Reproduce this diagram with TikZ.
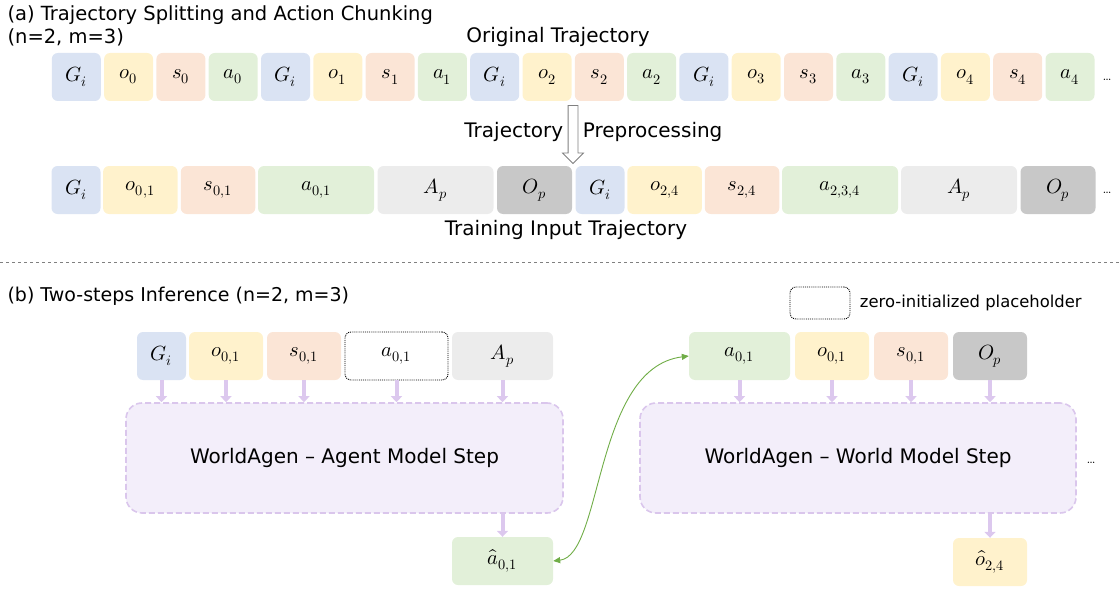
\documentclass[tikz,border=0pt]{standalone}
\usepackage{fontspec}
\usepackage{amsmath}
\usepackage{unicode-math}
\setmathfont{Latin Modern Math}
\usetikzlibrary{shapes.arrows,arrows.meta,positioning}
\newfontfamily\comicfont{DejaVu Sans}
\definecolor{goalblue}{RGB}{218,227,243}
\definecolor{obsyellow}{RGB}{255,242,204}
\definecolor{statesalmon}{RGB}{251,229,214}
\definecolor{actgreen}{RGB}{226,240,217}
\definecolor{aplight}{RGB}{236,236,236}
\definecolor{opdark}{RGB}{200,200,200}
\definecolor{lavfill}{RGB}{243,238,250}
\definecolor{lavborder}{RGB}{218,198,236}
\definecolor{lavarrow}{RGB}{220,200,238}
\definecolor{linkgreen}{RGB}{112,173,71}

\begin{document}
\begin{tikzpicture}[
    x=1pt, y=-1pt,
    token/.style={rectangle, rounded corners=6pt, minimum width=49pt, minimum height=48pt, inner sep=0pt, font=\fontsize{20.5}{24}\selectfont},
    goalbox/.style={token, fill=goalblue},
    obsbox/.style={token, fill=obsyellow},
    statebox/.style={token, fill=statesalmon},
    actbox/.style={token, fill=actgreen},
    apbox/.style={token, fill=aplight},
    opbox/.style={token, fill=opdark},
    holder/.style={token, draw=black, densely dotted, line width=0.9pt, fill=white},
    model/.style={rectangle, rounded corners=16pt, draw=lavborder, dashed, dash pattern=on 6pt off 3pt, line width=1.6pt, fill=lavfill, minimum height=110pt, font=\comicfont\fontsize{20}{24}\selectfont},
    caption/.style={font=\comicfont\fontsize{20}{23}\selectfont},
    dots/.style={font=\fontsize{14}{16}\selectfont},
    feed/.style={-{Triangle[length=6pt,width=11pt]}, line width=4pt, draw=lavarrow},
    link/.style={{Triangle[length=7pt,width=6pt]}-{Triangle[length=7pt,width=6pt]}, line width=0.9pt, draw=linkgreen}
]
\useasboundingbox (0,0) rectangle (1119,591);

% (a) Trajectory splitting
\node[caption, font=\comicfont\fontsize{19.5}{23}\selectfont, align=left, anchor=north west] (titlea) at (4,2) {(a) Trajectory Splitting and Action Chunking\\(n=2, m=3)};
\node[caption] (origlabel) at (558,37) {Original Trajectory};

% Original trajectory
\node[goalbox] (goal0) at (76.3,77) {$G_i$};
\node[obsbox] (obs0) at (128.6,77) {$o_0$};
\node[statebox] (st0) at (180.9,77) {$s_0$};
\node[actbox] (act0) at (233.2,77) {$a_0$};
\node[goalbox] (goal1) at (285.5,77) {$G_i$};
\node[obsbox] (obs1) at (337.8,77) {$o_1$};
\node[statebox] (st1) at (390.1,77) {$s_1$};
\node[actbox] (act1) at (442.4,77) {$a_1$};
\node[goalbox] (goal2) at (494.7,77) {$G_i$};
\node[obsbox] (obs2) at (547.0,77) {$o_2$};
\node[statebox] (st2) at (599.3,77) {$s_2$};
\node[actbox] (act2) at (651.6,77) {$a_2$};
\node[goalbox] (goal3) at (703.9,77) {$G_i$};
\node[obsbox] (obs3) at (756.2,77) {$o_3$};
\node[statebox] (st3) at (808.5,77) {$s_3$};
\node[actbox] (act3) at (860.8,77) {$a_3$};
\node[goalbox] (goal4) at (913.1,77) {$G_i$};
\node[obsbox] (obs4) at (965.4,77) {$o_4$};
\node[statebox] (st4) at (1017.7,77) {$s_4$};
\node[actbox] (act4) at (1070.0,77) {$a_4$};
\node[dots] (moreorig) at (1107,80) {\dots};

% Preprocessing arrow
\node[single arrow, draw=gray, fill=white, line width=0.8pt, shape border rotate=270, minimum height=58pt, inner sep=4.5pt, single arrow head extend=5.5pt] (prep) at (573,132) {};
\node[caption, left=1pt of prep] (preplabelL) {Trajectory};
\node[caption, right=1pt of prep] (preplabelR) {Preprocessing};

% Training input trajectory
\node[goalbox] (tgoal0) at (76,190) {$G_i$};
\node[obsbox, minimum width=74.5pt] (tobs01) at (140.3,190) {$o_{0,1}$};
\node[statebox, minimum width=74.5pt] (tst01) at (218,190) {$s_{0,1}$};
\node[actbox, minimum width=116pt] (tact01) at (316,190) {$a_{0,1}$};
\node[apbox, minimum width=116pt] (tap0) at (435.5,190) {$A_p$};
\node[opbox, minimum width=75pt] (top0) at (534.5,190) {$O_p$};
\node[goalbox] (tgoal1) at (600,190) {$G_i$};
\node[obsbox, minimum width=74.5pt] (tobs24) at (664.6,190) {$o_{2,4}$};
\node[statebox, minimum width=74.5pt] (tst24) at (742,190) {$s_{2,4}$};
\node[actbox, minimum width=116pt] (tact234) at (840,190) {$a_{2,3,4}$};
\node[apbox, minimum width=116pt] (tap1) at (959,190) {$A_p$};
\node[opbox, minimum width=75pt] (top1) at (1058,190) {$O_p$};
\node[dots] (moretrain) at (1107,193) {\dots};
\node[caption] (trainlabel) at (566,230) {Training Input Trajectory};

\draw[gray, dashed, line width=0.8pt] (0,262) -- (1119,262);

% (b) Two-steps inference
\node[caption, font=\comicfont\fontsize{19}{23}\selectfont, anchor=west] (titleb) at (4,296) {(b) Two-steps Inference (n=2, m=3)};
\node[holder, minimum width=60pt, minimum height=32pt] (legend) at (820,303) {};
\node[font=\comicfont\fontsize{16.4}{19}\selectfont, right=6pt of legend] (legendlabel) {zero-initialized placeholder};

% Agent model step
\node[goalbox] (agoal) at (161.5,356) {$G_i$};
\node[obsbox, minimum width=74pt] (aobs) at (226,356) {$o_{0,1}$};
\node[statebox, minimum width=74pt] (ast) at (304,356) {$s_{0,1}$};
\node[holder, minimum width=103pt] (aact) at (396.5,356) {$a_{0,1}$};
\node[apbox, minimum width=101pt] (aap) at (502.5,356) {$A_p$};
\node[model, minimum width=437pt] (agent) at (344.5,458) {WorldAgen – Agent Model Step};
\node[actbox, minimum width=101pt] (ahat) at (502.5,561) {$\hat{a}_{0,1}$};

% World model step
\node[actbox, minimum width=101pt] (wact) at (739.5,356) {$a_{0,1}$};
\node[obsbox, minimum width=74pt] (wobs) at (832,356) {$o_{0,1}$};
\node[statebox, minimum width=74pt] (wst) at (911,356) {$s_{0,1}$};
\node[opbox, minimum width=74pt] (wop) at (990,356) {$O_p$};
\node[model, minimum width=436pt] (world) at (858,458) {WorldAgen – World Model Step};
\node[obsbox, minimum width=74pt] (ohat) at (990,562) {$\hat{o}_{2,4}$};
\node[dots] (moreinfer) at (1091,463) {\dots};

% Connections
\draw[feed] (agoal.south) -- (agoal.south |- agent.north);
\draw[feed] (aobs.south) -- (aobs.south |- agent.north);
\draw[feed] (ast.south) -- (ast.south |- agent.north);
\draw[feed] (aact.south) -- (aact.south |- agent.north);
\draw[feed] (aap.south) -- (aap.south |- agent.north);
\draw[feed] (agent.south -| ahat.north) -- (ahat.north);
\draw[feed] (wact.south) -- (wact.south |- world.north);
\draw[feed] (wobs.south) -- (wobs.south |- world.north);
\draw[feed] (wst.south) -- (wst.south |- world.north);
\draw[feed] (wop.south) -- (wop.south |- world.north);
\draw[feed] (world.south -| ohat.north) -- (ohat.north);
\draw[link] (ahat.east) .. controls +(50,-6) and +(-95,12) .. (wact.west);

\end{tikzpicture}
\end{document}
